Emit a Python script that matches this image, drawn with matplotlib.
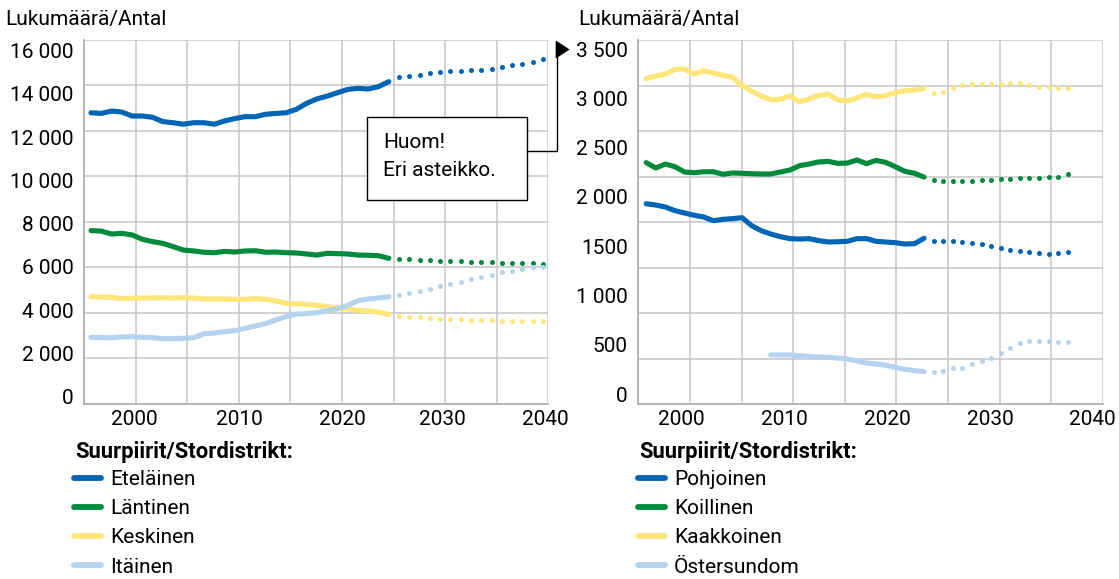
import numpy as np
import matplotlib
matplotlib.use("Agg")
import matplotlib.pyplot as plt
from matplotlib.lines import Line2D
from matplotlib.patches import Rectangle, Polygon

plt.rcParams['font.family'] = ['Roboto', 'DejaVu Sans']

# ---------------- data ----------------
years_hist = list(range(1996, 2026))
years_proj = list(range(2026, 2041))
years_ost_hist = list(range(2009, 2026))

# Left panel (Eteläinen, Läntinen, Keskinen, Itäinen)
etelainen_hist = [13130, 13100, 13210, 13165, 12980, 12980, 12920, 12720, 12670, 12600,
                  12670, 12670, 12600, 12750, 12860, 12950, 12950, 13060, 13100, 13130,
                  13290, 13570, 13770, 13900, 14060, 14210, 14260, 14230, 14340, 14570]
etelainen_proj = [14800, 14830, 14860, 14980, 15030, 15060, 15080, 15110, 15120, 15150,
                  15230, 15320, 15390, 15460, 15600]
lantinen_hist = [7680, 7660, 7520, 7555, 7480, 7280, 7170, 7090, 6940, 6780,
                 6740, 6680, 6660, 6720, 6690, 6740, 6750, 6680, 6690, 6660,
                 6645, 6600, 6550, 6630, 6615, 6600, 6550, 6540, 6520, 6400]
lantinen_proj = [6380, 6370, 6340, 6310, 6290, 6275, 6270, 6245, 6230, 6215,
                 6200, 6185, 6170, 6165, 6140]
keskinen_hist = [4625, 4610, 4595, 4535, 4550, 4565, 4565, 4580, 4565, 4580,
                 4565, 4520, 4520, 4520, 4505, 4505, 4535, 4505, 4425, 4320,
                 4290, 4270, 4225, 4165, 4115, 4055, 3995, 3965, 3915, 3800]
keskinen_proj = [3730, 3700, 3670, 3640, 3610, 3595, 3580, 3560, 3545, 3530,
                 3515, 3515, 3515, 3510, 3490]
itainen_hist = [2745, 2730, 2730, 2760, 2775, 2745, 2730, 2685, 2685, 2700,
                2730, 2915, 2945, 3005, 3055, 3160, 3270, 3380, 3550, 3700,
                3825, 3840, 3885, 3980, 4070, 4225, 4440, 4520, 4565, 4625]
itainen_proj = [4720, 4810, 4900, 4995, 5120, 5225, 5320, 5425, 5550, 5640,
                5750, 5830, 5905, 5980, 6020]

# Right panel (Pohjoinen, Koillinen, Kaakkoinen, Östersundom)
pohjoinen_hist = [1930, 1917, 1897, 1860, 1836, 1813, 1796, 1758, 1772, 1779,
                  1789, 1708, 1657, 1623, 1596, 1576, 1572, 1576, 1556, 1542,
                  1545, 1549, 1576, 1576, 1549, 1542, 1535, 1522, 1525, 1579]
pohjoinen_proj = [1552, 1552, 1556, 1545, 1535, 1522, 1501, 1481, 1464, 1451,
                  1441, 1434, 1424, 1430, 1437]
koillinen_hist = [2347, 2293, 2333, 2306, 2252, 2245, 2255, 2255, 2229, 2242,
                  2239, 2235, 2232, 2232, 2252, 2272, 2316, 2333, 2354, 2360,
                  2340, 2343, 2374, 2337, 2370, 2350, 2306, 2259, 2239, 2201]
koillinen_proj = [2168, 2161, 2161, 2164, 2164, 2168, 2174, 2178, 2184, 2188,
                  2191, 2195, 2201, 2205, 2229]
kaakkoinen_hist = [3199, 3226, 3246, 3294, 3297, 3246, 3280, 3257, 3233, 3213,
                   3131, 3074, 3023, 2986, 2989, 3027, 2962, 2993, 3030, 3040,
                   2983, 2972, 3006, 3040, 3016, 3027, 3057, 3077, 3084, 3098]
kaakkoinen_proj = [3057, 3067, 3108, 3135, 3148, 3145, 3145, 3148, 3158, 3152,
                   3131, 3118, 3111, 3104, 3108]
ostersundom_hist = [396, 396, 396, 389, 382, 375, 372, 365, 355, 335,
                    314, 304, 291, 271, 250, 237, 227]
ostersundom_proj = [227, 237, 260, 267, 301, 338, 369, 419, 470, 521,
                    534, 541, 538, 528, 524]

left_names = ["Eteläinen", "Läntinen", "Keskinen", "Itäinen"]
right_names = ["Pohjoinen", "Koillinen", "Kaakkoinen", "Östersundom"]

left_yticks = [0, 2000, 4000, 6000, 8000, 10000, 12000, 14000, 16000]
left_ylabels = ["0", "2 000", "4 000", "6 000", "8 000", "10 000", "12 000", "14 000", "16 000"]
right_yticks = [0, 500, 1000, 1500, 2000, 2500, 3000, 3500]
right_ylabels = ["0", "500", "1 000", "1500", "2 000", "2 500", "3 000", "3 500"]
xtick_labels = ["2000", "2010", "2020", "2030", "2040"]

axis_title = "Lukumäärä/Antal"
legend_title = "Suurpiirit/Stordistrikt:"
note_lines = ["Huom!", "Eri asteikko."]

# ---------------- style ----------------
C_BLUE = "#0065b5"
C_GREEN = "#008a3b"
C_YELLOW = "#ffe679"
C_LBLUE = "#b5d3ef"
C_GRID = "#c6c6c6"
colors = [C_BLUE, C_GREEN, C_YELLOW, C_LBLUE]

W, H = 1119, 579
fig = plt.figure(figsize=(W / 100, H / 100), dpi=100)

def fx(px):
    return px / W

def fy(py):
    return 1 - py / H

AX_TOP, AX_BOT = 40.0, 404.0
FS = 15


def make_axes(px_left, px_right, x_px1996, px_per_year, y_px0, px_per_unit,
              xlabel_px, yticks, ylabels):
    ax = fig.add_axes([fx(px_left), fy(AX_BOT), (px_right - px_left) / W,
                       (AX_BOT - AX_TOP) / H])
    x0 = 1996 - (x_px1996 - px_left) / px_per_year
    x1 = 1996 + (px_right - x_px1996) / px_per_year
    y0 = (y_px0 - AX_BOT) / px_per_unit
    y1 = (y_px0 - AX_TOP) / px_per_unit
    ax.set_xlim(x0, x1)
    ax.set_ylim(y0, y1)
    ax.xaxis.remove_overlapping_locs = False
    ax.yaxis.remove_overlapping_locs = False
    ax.set_xticks(np.linspace(x0, x1, 10), minor=True)
    ax.set_yticks(np.linspace(y0, y1, 9), minor=True)
    xt = [1996 + (p - x_px1996) / px_per_year for p in xlabel_px]
    ax.set_xticks(xt, labels=xtick_labels)
    ax.set_yticks(yticks, labels=ylabels)
    ax.grid(which="minor", color=C_GRID, lw=1.1)
    ax.grid(which="major", visible=False)
    ax.tick_params(which="both", length=0)
    ax.tick_params(axis="y", pad=7.5, labelsize=FS)
    ax.tick_params(axis="x", pad=4, labelsize=FS)
    for s in ["top", "right"]:
        ax.spines[s].set_visible(False)
    for s in ["left", "bottom"]:
        ax.spines[s].set_color("#b0b0b0")
        ax.spines[s].set_linewidth(1.3)
    ax.set_axisbelow(True)
    return ax


axL = make_axes(84, 548.4, 91.0, 10.27, 396.7, 0.021625,
                [134.3, 239.5, 342.5, 442.5, 545.8], left_yticks, left_ylabels)
axR = make_axes(638.3, 1102.7, 646.2, 9.58, 394.0, 0.098571,
                [681.7, 784.4, 887.2, 989.9, 1092.7], right_yticks, right_ylabels)

LW = 3.7
MS = 3.6

left_series = [(etelainen_hist, etelainen_proj), (lantinen_hist, lantinen_proj),
               (keskinen_hist, keskinen_proj), (itainen_hist, itainen_proj)]
right_series = [(pohjoinen_hist, pohjoinen_proj), (koillinen_hist, koillinen_proj),
                (kaakkoinen_hist, kaakkoinen_proj), (ostersundom_hist, ostersundom_proj)]

order = [3, 2, 1, 0]
for i in order:
    h, p = left_series[i]
    axL.plot(years_hist, h, color=colors[i], lw=LW, solid_capstyle="round",
             solid_joinstyle="round", zorder=3 + i * 0.1)
    axL.plot(years_proj, p, ls="none", marker="o", ms=MS, mew=0,
             color=colors[i], zorder=3 + i * 0.1)
for i in order:
    h, p = right_series[i]
    yh = years_ost_hist if i == 3 else years_hist
    axR.plot(yh, h, color=colors[i], lw=LW, solid_capstyle="round",
             solid_joinstyle="round", zorder=3 + i * 0.1)
    axR.plot(years_proj, p, ls="none", marker="o", ms=MS, mew=0,
             color=colors[i], zorder=3 + i * 0.1)

# axis titles
fig.text(fx(5), fy(19), axis_title, fontsize=FS, ha="left", va="center")
fig.text(fx(578), fy(19), axis_title, fontsize=FS, ha="left", va="center")

# legends
def add_legend(names, x_px, y_title_px, y_items_px):
    fig.text(fx(x_px + 1), fy(y_title_px), legend_title, fontsize=15.8,
             fontweight="bold", ha="left", va="center")
    handles = [Line2D([0], [0], color=c, lw=4.2, solid_capstyle="round")
               for c in colors]
    leg = fig.legend(handles, names, loc="upper left",
                     bbox_to_anchor=(fx(x_px), fy(y_items_px)), frameon=False,
                     fontsize=FS, handlelength=1.3, handletextpad=0.42,
                     labelspacing=0.49, borderpad=0, borderaxespad=0)
    return leg

add_legend(left_names, 74, 452, 470)
add_legend(right_names, 638, 452, 470)

# note box
box = Rectangle((fx(367), fy(200)), (527 - 367) / W, (200 - 117) / H,
                transform=fig.transFigure, facecolor="white", edgecolor="black",
                lw=1.0, zorder=5)
fig.add_artist(box)
fig.text(fx(383), fy(142), note_lines[0], fontsize=FS, ha="left", va="center", zorder=6)
fig.text(fx(383), fy(171), note_lines[1], fontsize=FS, ha="left", va="center", zorder=6)
conn = Line2D([fx(527), fx(557), fx(557)], [fy(151), fy(151), fy(50)],
              transform=fig.transFigure, color="black", lw=1.0, zorder=5)
fig.add_artist(conn)
tri = Polygon([(fx(556), fy(41)), (fx(556), fy(58)), (fx(569), fy(49.5))],
              closed=True, transform=fig.transFigure, facecolor="black",
              edgecolor="black", lw=0.5, zorder=6)
fig.add_artist(tri)

fig.savefig("out.png", dpi=100)
